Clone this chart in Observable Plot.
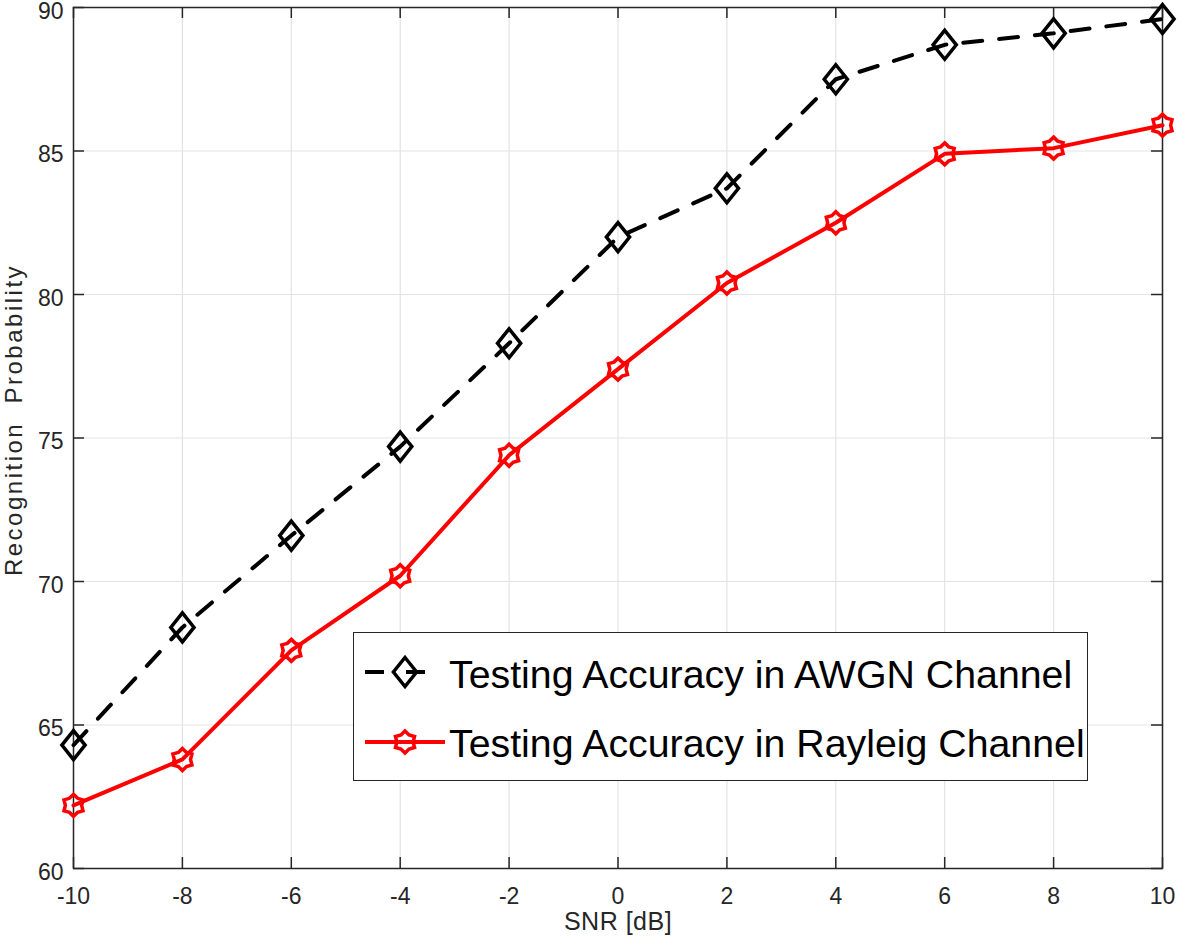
<!DOCTYPE html>
<html><head><meta charset="utf-8">
<script src="https://cdn.jsdelivr.net/npm/d3@7"></script>
<script src="https://cdn.jsdelivr.net/npm/@observablehq/plot@0.6"></script>
<style>
body{margin:0;background:#fff}
#wrap{position:relative;width:1179px;height:947px;font-family:"Liberation Sans",Arial,sans-serif}
#wrap svg text{white-space:pre}
#legend{position:absolute;left:353px;top:632px;width:735px;height:149px;box-sizing:border-box;border:1.5px solid #262626;background:#fff}
</style></head><body><div id="wrap"></div>
<script>
const snr = [-10, -8, -6, -4, -2, 0, 2, 4, 6, 8, 10];
const awgn = [64.3, 68.4, 71.6, 74.7, 78.3, 82.0, 83.7, 87.5, 88.7, 89.1, 89.6];
const rayleigh = [62.2, 63.8, 67.6, 70.2, 74.4, 77.4, 80.4, 82.5, 84.9, 85.1, 85.9];
const xTicks = [-10, -8, -6, -4, -2, 0, 2, 4, 6, 8, 10];
const yTicks = [60, 65, 70, 75, 80, 85, 90];
const seriesNames = ["Testing Accuracy in AWGN Channel", "Testing Accuracy in Rayleig Channel"];
const xLabel = "SNR [dB]";
const yLabel = "Recognition  Probability";

const awgnData = snr.map((x, i) => ({snr: x, acc: awgn[i]}));
const rayData = snr.map((x, i) => ({snr: x, acc: rayleigh[i]}));

const diamondSym = {draw(ctx, size) {
  const r = Math.sqrt(size / Math.PI), w = r * 0.8;
  ctx.moveTo(0, -r); ctx.lineTo(w, 0); ctx.lineTo(0, r); ctx.lineTo(-w, 0); ctx.closePath();
}};
const hexSym = {draw(ctx, size) {
  const R = Math.sqrt(size / Math.PI), ri = R * 0.74;
  for (let i = 0; i < 12; i++) {
    const a = -Math.PI / 2 + i * Math.PI / 6, rr = i % 2 ? ri : R;
    const px = rr * Math.cos(a), py = rr * Math.sin(a);
    if (i === 0) ctx.moveTo(px, py); else ctx.lineTo(px, py);
  }
  ctx.closePath();
}};

const W = 1179, H = 947, mL = 73, mR = 17, mT = 7, mB = 79;
const innerW = W - mL - mR, innerH = H - mT - mB;
const dark = "#262626";
const fontFam = "'Liberation Sans', Arial, sans-serif";

const chart = Plot.plot({
  width: W, height: H,
  marginLeft: mL, marginRight: mR, marginTop: mT, marginBottom: mB,
  style: {fontFamily: fontFam, fontSize: "23px", color: dark, background: "#fff", overflow: "visible"},
  x: {domain: [-10, 10], label: null},
  y: {domain: [60, 90], label: null},
  marks: [
    Plot.ruleX(xTicks, {x: d => d, stroke: "#e3e3e3", strokeWidth: 1.2}),
    Plot.ruleY(yTicks, {y: d => d, stroke: "#e3e3e3", strokeWidth: 1.2}),
    Plot.ruleX(xTicks, {x: d => d, insetTop: innerH - 11, stroke: dark, strokeWidth: 1.5}),
    Plot.ruleX(xTicks, {x: d => d, insetBottom: innerH - 11, stroke: dark, strokeWidth: 1.5}),
    Plot.ruleY(yTicks, {y: d => d, insetRight: innerW - 11, stroke: dark, strokeWidth: 1.5}),
    Plot.ruleY(yTicks, {y: d => d, insetLeft: innerW - 11, stroke: dark, strokeWidth: 1.5}),
    Plot.frame({stroke: dark, strokeWidth: 1.5}),
    Plot.axisX({ticks: xTicks, tickFormat: d => String(d), tickSize: 0, tickPadding: 19, fontSize: 23, fill: dark, label: null}),
    Plot.axisY({ticks: yTicks, tickFormat: d => String(d), tickSize: 0, tickPadding: 10, dy: 4, fontSize: 23, fill: dark, label: null}),
    Plot.text([xLabel], {frameAnchor: "bottom", dy: 61, fontSize: 25, fill: dark}),
    Plot.text([yLabel], {frameAnchor: "left", textAnchor: "middle", dx: -59, dy: -18, rotate: -90, fontSize: 24, fill: dark}),
    Plot.line(awgnData, {x: "snr", y: "acc", stroke: "#000", strokeWidth: 4, strokeDasharray: "19,17"}),
    Plot.dot(awgnData, {x: "snr", y: "acc", r: 14.5, symbol: diamondSym, stroke: "#000", strokeWidth: 3.5, fill: "none"}),
    Plot.line(rayData, {x: "snr", y: "acc", stroke: "#ff0000", strokeWidth: 4}),
    Plot.dot(rayData, {x: "snr", y: "acc", r: 11, symbol: hexSym, stroke: "#ff0000", strokeWidth: 3.5, fill: "none"})
  ]
});

// widen letter spacing of the axis titles to match the reference text lengths
d3.select(chart).selectAll("text").each(function() {
  const t = this.textContent;
  if (t === yLabel) d3.select(this).style("letter-spacing", "2.5px");
  if (t === xLabel) d3.select(this).style("letter-spacing", "0.5px");
});

const wrap = document.getElementById("wrap");
wrap.appendChild(chart);

// Legend
const leg = document.createElement("div");
leg.id = "legend";
wrap.appendChild(leg);
const ls = d3.select(leg).append("svg").attr("width", 735).attr("height", 149)
  .style("position", "absolute").style("left", "-1.5px").style("top", "-1.5px");
const rows = [
  {name: seriesNames[0], color: "#000", dash: "19,22", sym: diamondSym, size: 14.5 * 14.5 * Math.PI, cy: 40, base: 56},
  {name: seriesNames[1], color: "#ff0000", dash: null, sym: hexSym, size: 11 * 11 * Math.PI, cy: 110, base: 125}
];
rows.forEach(r => {
  ls.append("line").attr("x1", 12).attr("x2", 92).attr("y1", r.cy).attr("y2", r.cy)
    .attr("stroke", r.color).attr("stroke-width", 4).attr("stroke-dasharray", r.dash);
  ls.append("path").attr("d", d3.symbol(r.sym, r.size)()).attr("transform", `translate(52,${r.cy})`)
    .attr("fill", "none").attr("stroke", r.color).attr("stroke-width", 3.5);
  ls.append("text").attr("x", 96).attr("y", r.base).text(r.name)
    .attr("font-size", 39.3).attr("fill", "#000").attr("font-family", fontFam);
});
</script></body></html>
